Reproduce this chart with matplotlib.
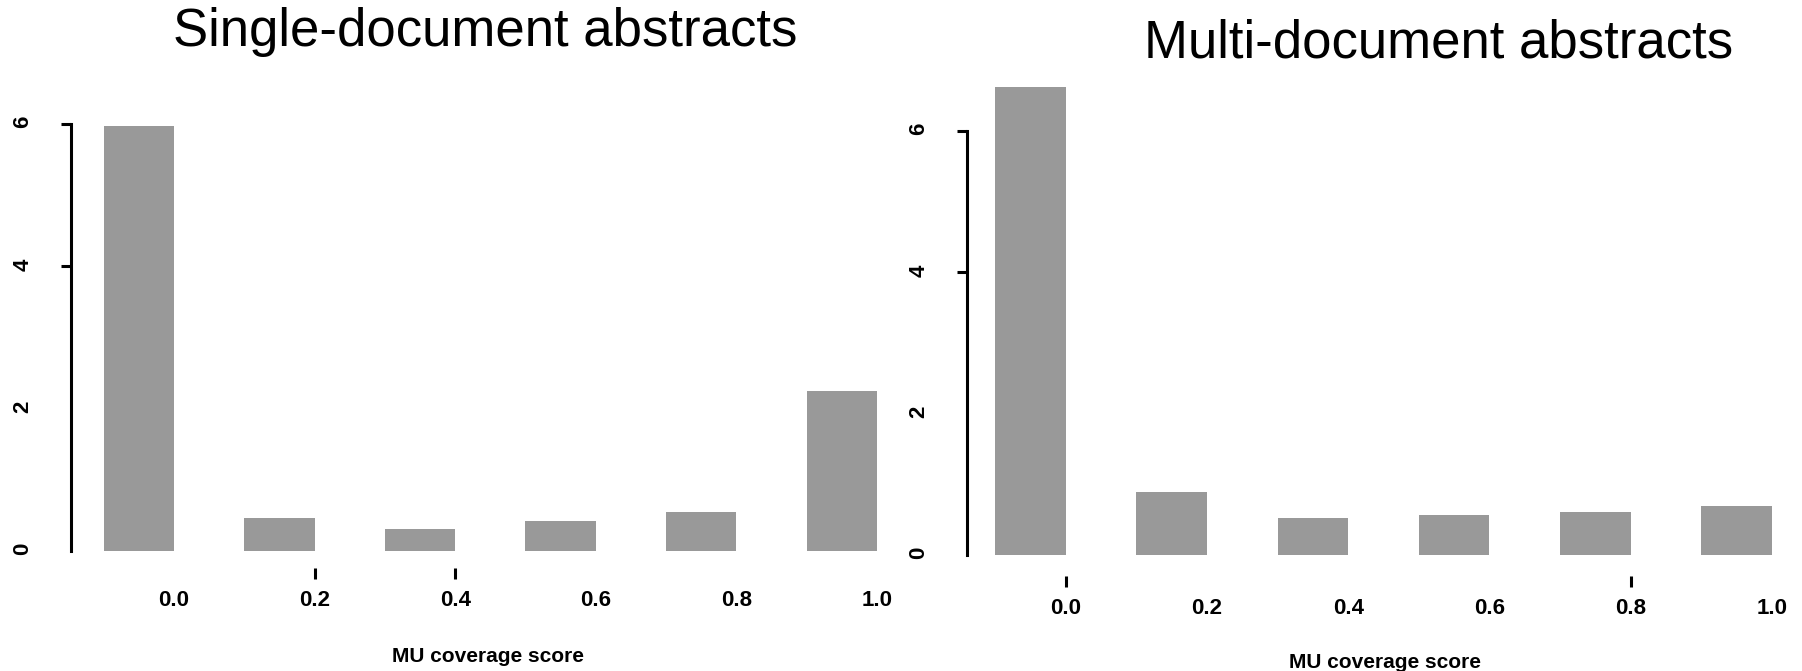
import matplotlib
matplotlib.use("Agg")
import matplotlib.pyplot as plt

plt.rcParams.update({
    "font.family": ["Liberation Sans", "DejaVu Sans"],
    "font.weight": "bold"})

# MU coverage score bins and number of abstracts in each
scores = [0.0, 0.2, 0.4, 0.6, 0.8, 1.0]
single_counts = [5.97, 0.46, 0.31, 0.42, 0.55, 2.25]
multi_counts = [6.63, 0.89, 0.52, 0.57, 0.61, 0.69]
score_labels = ["0.0", "0.2", "0.4", "0.6", "0.8", "1.0"]
yticks = [0, 2, 4, 6]

titles = ["Single-document abstracts", "Multi-document abstracts"]
xlabel = "MU coverage score"

W, H = 1802, 671
fig = plt.figure(figsize=(W / 100, H / 100), dpi=100)


def px_axes(left, top, right, bottom):
    return fig.add_axes([left / W, 1 - bottom / H, (right - left) / W, (bottom - top) / H])


panels = [
    # axes box, xlim, ylim, visible x ticks, tick pad, title pos, xlabel pos
    dict(box=(71, 67, 891, 568), xlim=(-0.1465, 1.02), ylim=(-0.239, 6.8),
         xvis=[False, True, True, False, False, False], xpad=7.5,
         counts=single_counts, title=titles[0], tpos=(485, 32), lpos=(488, 656)),
    dict(box=(967, 74.5, 1800, 576), xlim=(-0.140, 1.04), ylim=(-0.297, 6.8),
         xvis=[True, False, False, False, True, False], xpad=7.5,
         counts=multi_counts, title=titles[1], tpos=(1439, 43), lpos=(1385, 662)),
]

for p in panels:
    ax = px_axes(*p["box"])
    ax.bar(scores, p["counts"], width=-0.1, align="edge", color="#999999", linewidth=0)
    ax.set_xlim(*p["xlim"])
    ax.set_ylim(*p["ylim"])
    for s in ["top", "right", "bottom"]:
        ax.spines[s].set_visible(False)
    ax.spines["left"].set_bounds(0, 6)
    ax.spines["left"].set_linewidth(2.2)

    ax.set_yticks(yticks)
    ax.set_yticklabels([str(v) for v in yticks])
    ax.tick_params(axis="y", length=7.2, width=2.2, pad=20, labelsize=16,
                   labelrotation=90)
    for t, v in zip(ax.yaxis.get_major_ticks(), [False, False, True, True]):
        t.tick1line.set_visible(v)

    ax.set_xticks(scores)
    ax.set_xticklabels(score_labels)
    ax.tick_params(axis="x", length=8, width=2.2, pad=p["xpad"], labelsize=16)
    for t, v in zip(ax.xaxis.get_major_ticks(), p["xvis"]):
        t.tick1line.set_visible(v)

    fig.text(p["tpos"][0] / W, 1 - p["tpos"][1] / H, p["title"], fontsize=38,
             fontweight="normal", ha="center", va="center")
    fig.text(p["lpos"][0] / W, 1 - p["lpos"][1] / H, xlabel, fontsize=15,
             ha="center", va="center")

fig.savefig("out.png", dpi=100)
